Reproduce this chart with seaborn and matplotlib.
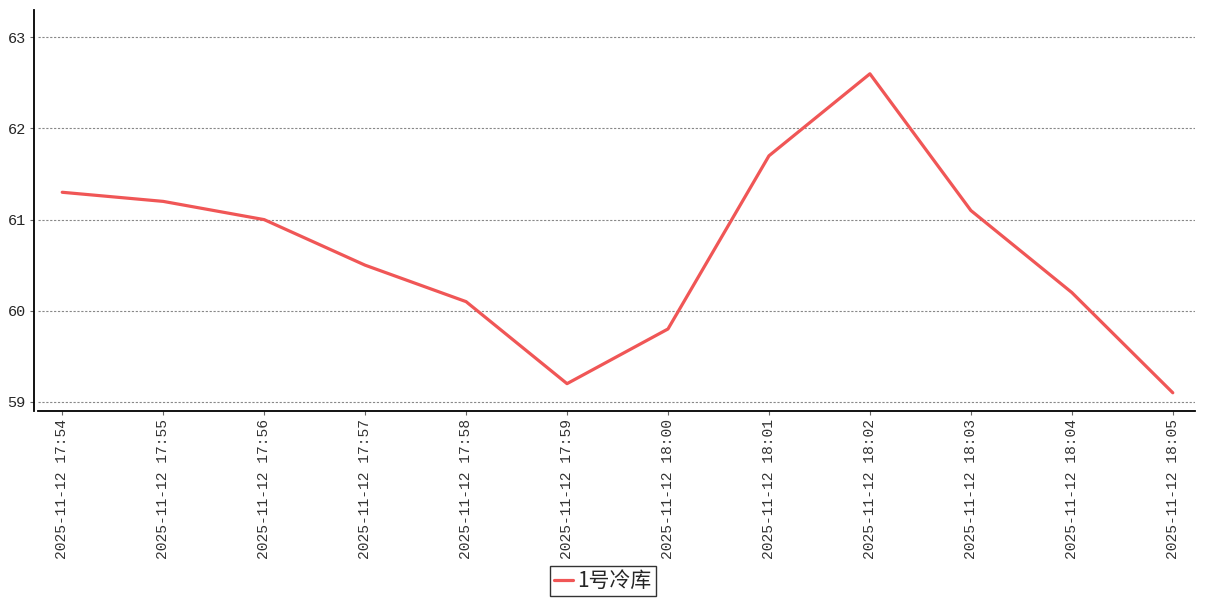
import matplotlib
matplotlib.use("Agg")
import matplotlib.pyplot as plt
import seaborn as sns
import pandas as pd

times = ["2025-11-12 17:54", "2025-11-12 17:55", "2025-11-12 17:56", "2025-11-12 17:57",
         "2025-11-12 17:58", "2025-11-12 17:59", "2025-11-12 18:00", "2025-11-12 18:01",
         "2025-11-12 18:02", "2025-11-12 18:03", "2025-11-12 18:04", "2025-11-12 18:05"]
temps = [61.3, 61.2, 61.0, 60.5, 60.1, 59.2, 59.8, 61.7, 62.6, 61.1, 60.2, 59.1]
series_name = "1号冷库"
yticks = [59, 60, 61, 62, 63]

sns.set_theme(style="white")
plt.rcParams['font.family'] = ['Liberation Mono', 'DejaVu Sans Mono', 'Noto Sans CJK SC']

data = pd.DataFrame({"x": range(len(times)), "y": temps, "name": series_name})

fig = plt.figure(figsize=(12.07, 6.0), dpi=100)
ax = fig.add_axes([38 / 1207, 1 - 411 / 600, (1195 - 38) / 1207, (411 - 10) / 600])

sns.lineplot(data=data, x="x", y="y", hue="name", palette=["#f05656"], linewidth=2.3, ax=ax)

ax.set_xlim(-0.24, 11.22)
ax.set_ylim(58.9, 63.3)
ax.set_xticks(range(len(times)))
ax.set_xticklabels(times, rotation=90, fontsize=10.5, color="#333333")
ax.set_yticks(yticks)
ax.set_yticklabels([str(v) for v in yticks], fontsize=11.5, color="#333333")
ax.set_xlabel("")
ax.set_ylabel("")
for y in yticks:
    ax.axhline(y, color="#888888", linestyle=(0, (2, 1.5)), linewidth=0.8, zorder=0)

ax.tick_params(axis="both", length=3, width=0.8, color="#666666", pad=3, bottom=True, left=True)
ax.spines["top"].set_visible(False)
ax.spines["right"].set_visible(False)
ax.spines["left"].set_position(("outward", 2.9))
ax.spines["left"].set_color("black")
ax.spines["bottom"].set_color("black")
ax.spines["left"].set_linewidth(1.3)
ax.spines["bottom"].set_linewidth(1.3)

leg = ax.legend(loc="center", bbox_to_anchor=((603 - 38) / 1157, (411 - 581) / 401),
                frameon=True, fancybox=False, handlelength=0.9,
                handletextpad=0.2, borderpad=0.2, borderaxespad=0,
                prop={'family': ['Noto Sans CJK SC', 'DejaVu Sans'], 'size': 15})
leg.get_frame().set_edgecolor("black")
leg.get_frame().set_linewidth(1.0)

fig.savefig("out.png", dpi=100)
